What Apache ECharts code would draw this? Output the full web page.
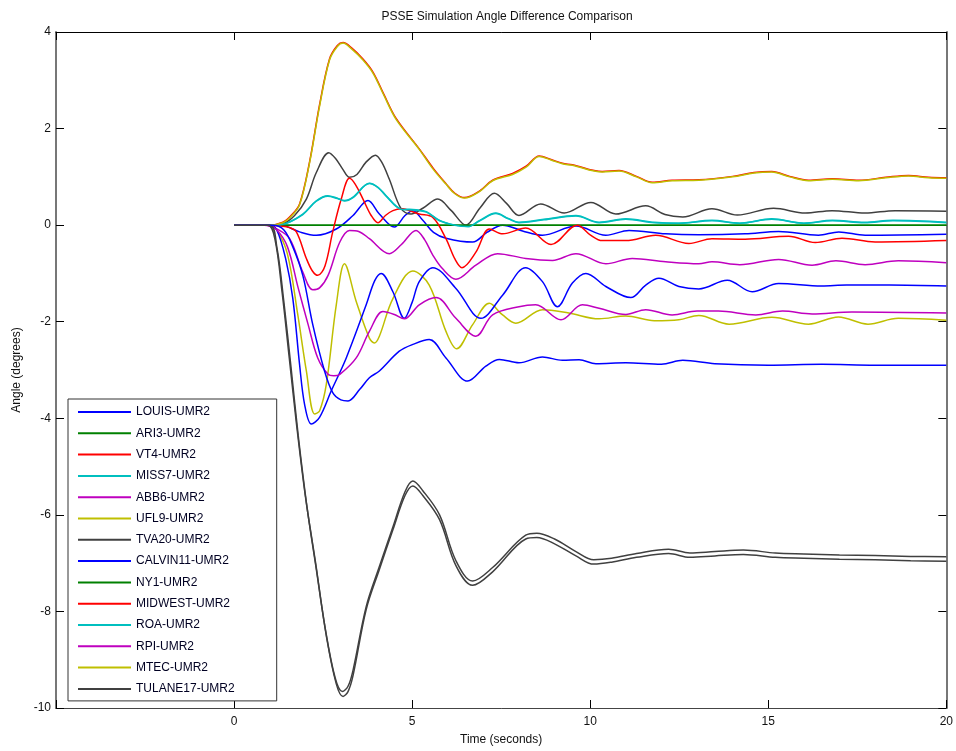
<!DOCTYPE html>
<html>
<head>
<meta charset="utf-8">
<title>PSSE Simulation Angle Difference Comparison</title>
<script src="https://cdn.jsdelivr.net/npm/echarts@6/dist/echarts.min.js"></script>
<style>
  html, body { margin: 0; padding: 0; background: #fff; }
  #chart { width: 956px; height: 751px; }
</style>
</head>
<body>
<div id="chart"></div>
<script>
// legend names (MATLAB colour order b g r c m y k, repeating)
var names = ['LOUIS-UMR2', 'ARI3-UMR2', 'VT4-UMR2', 'MISS7-UMR2', 'ABB6-UMR2', 'UFL9-UMR2', 'TVA20-UMR2',
  'CALVIN11-UMR2', 'NY1-UMR2', 'MIDWEST-UMR2', 'ROA-UMR2', 'RPI-UMR2', 'MTEC-UMR2', 'TULANE17-UMR2']
var xTicks = [0, 5, 10, 15, 20]
var yTicks = [-10, -8, -6, -4, -2, 0, 2, 4]

// [time (s), angle (deg)]
var louis = [[0, 0], [1.0, 0], [1.37, -0.01], [1.84, -0.14], [2.31, -0.21], [2.87, -0.08], [3.34, 0.2], [3.76, 0.51],
  [4.08, 0.23], [4.5, -0.04], [4.8, 0.2], [5.02, 0.3], [5.3, 0.1], [5.6, -0.15], [5.95, -0.27], [6.7, -0.35],
  [7.1, -0.15], [7.54, 0.0], [8.1, -0.12], [8.66, -0.21], [9.6, -0.02], [10.44, -0.21], [11.09, -0.11],
  [12.12, -0.18], [13.05, -0.2], [14.35, -0.18], [15.29, -0.13], [16.41, -0.21], [16.98, -0.14], [17.72, -0.21], [20, -0.19]]
var ari3 = [[0, 0], [20, 0]]
var vt4 = [[0, 0], [1.0, 0], [1.37, 0.06], [1.6, 0.2], [1.84, 0.44], [2.12, 1.31], [2.4, 2.49], [2.68, 3.44], [2.9, 3.72],
  [3.06, 3.78], [3.3, 3.67], [3.62, 3.44], [3.9, 3.17], [4.2, 2.72], [4.55, 2.21], [5.2, 1.58], [5.6, 1.17], [5.95, 0.86],
  [6.2, 0.66], [6.47, 0.57], [6.9, 0.71], [7.26, 0.93], [7.82, 1.07], [8.2, 1.22], [8.57, 1.43], [8.9, 1.36], [9.22, 1.28],
  [9.5, 1.25], [10.34, 1.11], [10.81, 1.13], [11.3, 1.01], [11.74, 0.89], [12.3, 0.93], [13.05, 0.94], [14.0, 1.01],
  [14.6, 1.09], [15.1, 1.11], [15.6, 1.01], [16.13, 0.93], [16.8, 0.96], [17.54, 0.93], [18.3, 0.99], [18.94, 1.03],
  [19.5, 0.99], [20, 0.98]]
var miss7 = [[0, 0], [1.0, 0], [1.37, 0.02], [1.93, 0.23], [2.3, 0.5], [2.63, 0.61], [2.9, 0.56], [3.1, 0.51], [3.34, 0.58],
  [3.8, 0.87], [4.05, 0.78], [4.27, 0.61], [4.69, 0.34], [5.11, 0.32], [5.4, 0.28], [5.77, 0.1], [6.2, 0.0], [6.56, -0.03],
  [6.9, 0.1], [7.35, 0.25], [7.7, 0.14], [8.0, 0.06], [8.7, 0.12], [9.6, 0.2], [10.25, 0.06], [11.0, 0.13], [11.8, 0.06],
  [12.49, 0.04], [13.42, 0.1], [14.2, 0.04], [15.1, 0.13], [16.0, 0.04], [16.8, 0.1], [17.7, 0.06], [18.5, 0.1], [20, 0.06]]
var abb6 = [[0, 0], [0.85, 0], [1.2, -0.08], [1.56, -0.28], [1.93, -0.97], [2.21, -1.34], [2.4, -1.3], [2.64, -1.04],
  [2.97, -0.35], [3.24, -0.11], [3.5, -0.13], [3.8, -0.28], [4.36, -0.59], [4.7, -0.4], [5.11, -0.11], [5.35, -0.3],
  [5.58, -0.62], [5.85, -0.9], [6.23, -1.12], [6.79, -0.83], [7.4, -0.59], [8.19, -0.69], [8.94, -0.73], [9.6, -0.59],
  [10.44, -0.8], [11.18, -0.69], [12.12, -0.76], [13.05, -0.8], [13.42, -0.76], [14.2, -0.82], [15.29, -0.71],
  [16.23, -0.83], [16.9, -0.74], [17.72, -0.82], [18.65, -0.74], [20, -0.78]]
var ufl9 = [[0, 0], [1.0, 0], [1.2, -0.1], [1.5, -0.6], [1.79, -1.86], [2.03, -3.02], [2.26, -3.91], [2.4, -3.85],
  [2.59, -3.3], [2.87, -1.65], [3.1, -0.8], [3.43, -1.58], [3.8, -2.34], [3.94, -2.44], [4.08, -2.3], [4.46, -1.52],
  [5.02, -0.95], [5.48, -1.24], [5.95, -2.2], [6.25, -2.56], [6.7, -2.06], [7.17, -1.62], [7.54, -1.86], [7.91, -2.03],
  [8.66, -1.75], [9.4, -1.82], [10.25, -1.94], [11.0, -1.88], [11.8, -1.98], [12.49, -1.96], [13.05, -1.87], [13.9, -2.05],
  [15.1, -1.91], [16.13, -2.05], [16.97, -1.9], [17.8, -2.05], [18.65, -1.93], [20, -1.97]]
var tva20 = [[0, 0], [1.0, 0], [1.37, 0.03], [1.7, 0.2], [2.03, 0.54], [2.31, 1.09], [2.66, 1.5], [2.85, 1.38], [3.05, 1.16],
  [3.24, 0.99], [3.45, 1.05], [3.7, 1.3], [3.97, 1.45], [4.15, 1.3], [4.36, 0.95], [4.69, 0.34], [4.97, 0.23], [5.3, 0.35],
  [5.72, 0.54], [6.1, 0.3], [6.51, 0.0], [6.9, 0.35], [7.31, 0.66], [7.65, 0.45], [8.0, 0.2], [8.61, 0.44], [9.27, 0.25],
  [10.02, 0.47], [10.72, 0.23], [11.56, 0.4], [12.1, 0.22], [12.6, 0.17], [13.42, 0.34], [14.13, 0.21], [15.15, 0.35],
  [16.04, 0.25], [16.79, 0.3], [17.72, 0.25], [18.56, 0.3], [20, 0.29]]
var calvin11 = [[0, 0], [1.0, 0], [1.2, -0.1], [1.45, -0.7], [1.65, -1.52], [1.84, -2.89], [1.98, -3.71], [2.17, -4.12],
  [2.4, -3.98], [2.73, -3.43], [3.15, -2.75], [3.71, -1.65], [3.95, -1.15], [4.13, -1.0], [4.46, -1.38], [4.78, -1.93],
  [5.0, -1.6], [5.2, -1.17], [5.58, -0.88], [6.23, -1.31], [6.93, -1.93], [7.54, -1.45], [8.19, -0.88], [8.66, -1.17],
  [9.08, -1.69], [9.5, -1.2], [9.88, -1.0], [10.44, -1.27], [11.14, -1.5], [11.56, -1.24], [11.93, -1.1], [12.49, -1.27],
  [13.05, -1.32], [13.85, -1.14], [14.55, -1.38], [15.29, -1.21], [16.5, -1.26], [17.2, -1.24], [18.4, -1.24], [20, -1.26]]
var ny1 = [[0, 0], [20, 0]]
var midwest = [[0, 0], [1.0, 0], [1.3, -0.02], [1.55, -0.05], [1.75, -0.14], [2.03, -0.69], [2.2, -0.95], [2.35, -1.04],
  [2.55, -0.85], [2.77, -0.14], [3.01, 0.54], [3.24, 0.97], [3.4, 0.85], [3.62, 0.54], [3.85, 0.2], [4.04, 0.05], [4.25, 0.2],
  [4.46, 0.3], [4.69, 0.34], [5.2, 0.23], [5.58, 0.16], [5.95, -0.28], [6.2, -0.7], [6.4, -0.88], [6.79, -0.56], [7.17, -0.08],
  [7.54, -0.18], [8.19, -0.06], [8.9, -0.4], [9.64, 0.0], [10.0, -0.2], [10.34, -0.32], [11.0, -0.32], [11.84, -0.21],
  [12.77, -0.38], [13.42, -0.28], [14.35, -0.29], [15.57, -0.23], [16.32, -0.36], [17.07, -0.27], [18.0, -0.35], [20, -0.32]]
var roa = [[0, 0], [1.0, 0], [1.37, 0.02], [1.93, 0.22], [2.3, 0.49], [2.63, 0.6], [2.9, 0.55], [3.1, 0.5], [3.34, 0.57],
  [3.8, 0.86], [4.05, 0.77], [4.27, 0.6], [4.69, 0.33], [5.11, 0.31], [5.4, 0.27], [5.77, 0.09], [6.2, 0.0], [6.56, -0.03],
  [6.9, 0.09], [7.35, 0.24], [7.7, 0.13], [8.0, 0.05], [8.7, 0.11], [9.6, 0.19], [10.25, 0.05], [11.0, 0.12], [11.8, 0.05],
  [12.49, 0.04], [13.42, 0.09], [14.2, 0.04], [15.1, 0.12], [16.0, 0.04], [16.8, 0.09], [17.7, 0.05], [18.5, 0.09], [20, 0.05]]
var rpi = [[0, 0], [0.9, 0], [1.2, -0.1], [1.5, -0.45], [1.8, -1.3], [2.08, -2.06], [2.35, -2.75], [2.64, -3.09], [2.8, -3.12],
  [2.97, -3.09], [3.43, -2.75], [3.8, -2.2], [4.18, -1.79], [4.5, -1.85], [4.78, -1.94], [5.2, -1.65], [5.67, -1.5],
  [6.23, -1.93], [6.79, -2.3], [7.26, -1.86], [8.0, -1.69], [8.47, -1.65], [9.18, -1.96], [9.78, -1.65], [10.25, -1.72],
  [11.0, -1.85], [11.56, -1.75], [12.3, -1.86], [13.0, -1.78], [13.6, -1.78], [14.65, -1.86], [15.4, -1.78], [16.23, -1.84],
  [17.35, -1.8], [20, -1.82]]
var mtec = [[0, 0], [1.0, 0], [1.37, 0.05], [1.6, 0.18], [1.84, 0.42], [2.12, 1.29], [2.4, 2.46], [2.68, 3.42], [2.9, 3.7],
  [3.06, 3.77], [3.3, 3.65], [3.62, 3.42], [3.9, 3.15], [4.2, 2.7], [4.55, 2.19], [5.2, 1.57], [5.6, 1.15], [5.95, 0.85],
  [6.2, 0.65], [6.47, 0.56], [6.9, 0.7], [7.26, 0.92], [7.82, 1.05], [8.2, 1.2], [8.57, 1.42], [8.9, 1.35], [9.22, 1.27],
  [9.5, 1.24], [10.34, 1.1], [10.81, 1.12], [11.3, 1.0], [11.74, 0.88], [12.3, 0.92], [13.05, 0.93], [14.0, 1.0],
  [14.6, 1.08], [15.1, 1.1], [15.6, 1.0], [16.13, 0.92], [16.8, 0.95], [17.54, 0.92], [18.3, 0.98], [18.94, 1.02],
  [19.5, 0.98], [20, 0.97]]
var tulane17 = [[0, 0], [1.0, 0], [1.2, -0.45], [1.4, -1.6], [1.6, -2.95], [1.8, -4.35], [2.05, -5.85], [2.31, -7.13],
  [2.59, -8.5], [2.87, -9.5], [3.06, -9.76], [3.2, -9.66], [3.34, -9.33], [3.71, -7.96], [4.08, -7.13], [4.46, -6.31],
  [4.8, -5.6], [5.02, -5.4], [5.3, -5.6], [5.77, -6.1], [6.23, -7.05], [6.7, -7.46], [7.26, -7.18], [8.19, -6.5], [8.5, -6.47],
  [9.0, -6.6], [9.6, -6.85], [10.1, -7.02], [10.6, -6.98], [11.3, -6.88], [12.2, -6.8], [12.8, -6.88], [13.5, -6.85],
  [14.3, -6.82], [15.2, -6.88], [16, -6.9], [17, -6.92], [18, -6.93], [19, -6.95], [20, -6.96]]
// two more traces drawn in the plot but not listed in its legend
var extraBlue = [[0, 0], [1.1, 0], [1.4, -0.1], [1.65, -0.45], [1.93, -1.04], [2.21, -2.06], [2.54, -3.02], [2.77, -3.47],
  [3.0, -3.62], [3.2, -3.64], [3.53, -3.4], [3.8, -3.16], [4.08, -3.02], [4.64, -2.61], [5.02, -2.47], [5.48, -2.37],
  [5.95, -2.75], [6.56, -3.23], [7.07, -2.92], [7.45, -2.78], [8.0, -2.85], [8.66, -2.73], [9.22, -2.8], [9.69, -2.79],
  [10.16, -2.87], [11.0, -2.85], [12.0, -2.88], [12.6, -2.8], [13.5, -2.87], [15, -2.9], [16.5, -2.88], [18, -2.9], [20, -2.9]]
var extraGray = [[0, 0], [0.95, 0], [1.15, -0.3], [1.35, -1.4], [1.55, -2.75], [1.75, -4.1], [2.0, -5.6], [2.28, -6.95],
  [2.56, -8.35], [2.84, -9.38], [3.04, -9.66], [3.2, -9.55], [3.34, -9.22], [3.71, -7.9], [4.08, -7.07], [4.46, -6.25],
  [4.8, -5.52], [5.02, -5.3], [5.3, -5.5], [5.77, -6.0], [6.23, -6.95], [6.7, -7.37], [7.26, -7.09], [8.19, -6.42], [8.5, -6.38],
  [9.0, -6.5], [9.6, -6.76], [10.1, -6.93], [10.6, -6.9], [11.3, -6.8], [12.2, -6.71], [12.8, -6.79], [13.5, -6.76],
  [14.3, -6.73], [15.2, -6.79], [16, -6.81], [17, -6.83], [18, -6.84], [19, -6.86], [20, -6.87]]

var B = '#0000ff', G = '#008000', R = '#ff0000', C = '#00bfbf', M = '#bf00bf', Y = '#bfbf00', K = '#404040'
var traces = [louis, ari3, vt4, miss7, abb6, ufl9, tva20, calvin11, ny1, midwest, roa, rpi, mtec, tulane17, extraBlue, extraGray]
var traceColors = [B, G, R, C, M, Y, K, B, G, R, C, M, Y, K, B, K]
var traceNames = names.concat(['LOUIS-UMR2 ', 'TULANE17-UMR2 '])

var series = traces.map(function(d, i) {
  return {
    name: traceNames[i],
    type: 'line',
    data: d,
    smooth: 0.35,
    symbol: 'none',
    xAxisIndex: 0,
    yAxisIndex: 0,
    lineStyle: { color: traceColors[i], width: 1.5 },
    itemStyle: { color: traceColors[i] }
  }
})

var font = 'Liberation Sans, Arial, sans-serif'
var chart = echarts.init(document.getElementById('chart'))
chart.setOption({
  animation: false,
  backgroundColor: '#fff',
  title: {
    text: 'PSSE Simulation Angle Difference Comparison',
    left: 502,
    top: 6,
    textAlign: 'center',
    textStyle: { fontSize: 12, fontWeight: 'normal', color: '#111', fontFamily: font }
  },
  legend: {
    data: names,
    orient: 'vertical',
    left: 68,
    top: 399,
    itemWidth: 53,
    itemHeight: 12,
    itemGap: 9.3,
    padding: [7, 42, 6, 9],
    borderColor: '#333',
    borderWidth: 1,
    backgroundColor: '#fff',
    selectedMode: false,
    itemStyle: { opacity: 0 },
    textStyle: { fontSize: 12, color: '#000022', fontFamily: font }
  },
  grid: { left: 56, right: 8, top: 32, bottom: 38 },
  xAxis: [{
    type: 'value',
    min: -5,
    max: 20,
    interval: 5,
    position: 'bottom',
    name: 'Time (seconds)',
    nameLocation: 'middle',
    nameGap: 26,
    nameTextStyle: { fontSize: 12, color: '#111', fontFamily: font },
    axisLine: { onZero: false, lineStyle: { color: '#444', width: 1 } },
    axisTick: { inside: true, length: 8, lineStyle: { color: '#000' } },
    axisLabel: {
      fontSize: 12, color: '#111', fontFamily: font, margin: 8,
      formatter: function(v) { return xTicks.indexOf(v) >= 0 ? String(v) : '' }
    },
    splitLine: { show: false }
  }, {
    type: 'value',
    min: -5,
    max: 20,
    interval: 5,
    position: 'top',
    axisLine: { onZero: false, lineStyle: { color: '#000', width: 1 } },
    axisTick: { inside: true, length: 8, lineStyle: { color: '#000' } },
    axisLabel: { show: false },
    splitLine: { show: false }
  }],
  yAxis: [{
    type: 'value',
    min: -10,
    max: 4,
    interval: 2,
    position: 'left',
    name: 'Angle (degrees)',
    nameLocation: 'middle',
    nameRotate: 90,
    nameGap: 26,
    nameTextStyle: { fontSize: 12, color: '#111', fontFamily: font },
    axisLine: { onZero: false, lineStyle: { color: '#777', width: 2 } },
    axisTick: { inside: true, length: 8, lineStyle: { color: '#000' } },
    axisLabel: {
      fontSize: 12, color: '#111', fontFamily: font, margin: 5,
      formatter: function(v) { return yTicks.indexOf(v) >= 0 ? String(v) : '' }
    },
    splitLine: { show: false }
  }, {
    type: 'value',
    min: -10,
    max: 4,
    interval: 2,
    position: 'right',
    axisLine: { show: true, onZero: false, lineStyle: { color: '#777', width: 2 } },
    axisTick: { inside: true, length: 8, lineStyle: { color: '#000' } },
    axisLabel: { show: false },
    splitLine: { show: false }
  }],
  series: series
})
</script>
</body>
</html>
